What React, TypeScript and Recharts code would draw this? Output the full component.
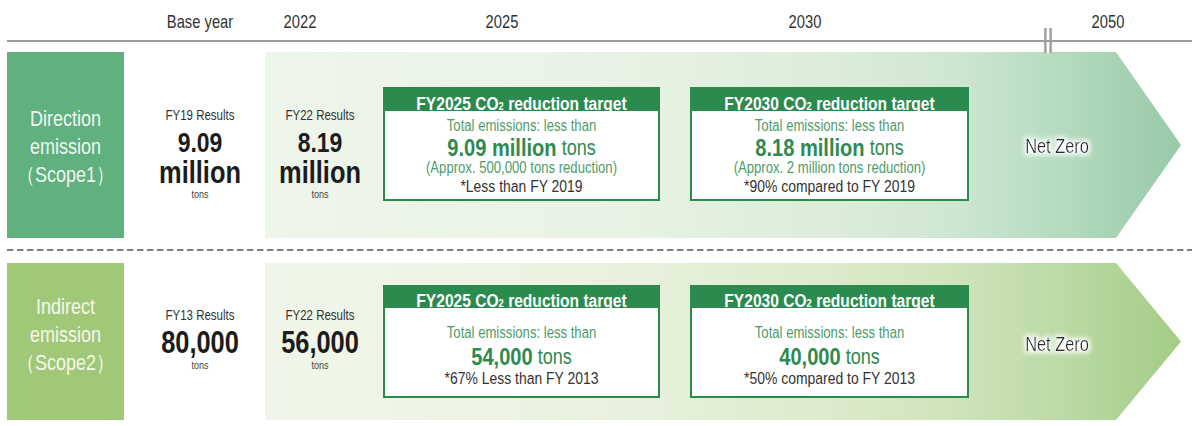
import { Bar, ComposedChart, XAxis, YAxis } from 'recharts'

// no narrow face is installed, so Liberation Sans is squeezed to Arial Narrow proportions
const FONT = "'Liberation Sans', Arial, sans-serif"
const NARROW = 0.82

// ---- data -------------------------------------------------------------
const scopes = ['Scope1', 'Scope2']
const scopeTitles = [
  ['Direction', 'emission', '（Scope1）'],
  ['Indirect', 'emission', '（Scope2）'],
]
const baseLabels = ['FY19 Results', 'FY13 Results']
const baseValues = [['9.09', 'million'], ['80,000']]
const fy22Labels = ['FY22 Results', 'FY22 Results']
const fy22Values = [['8.19', 'million'], ['56,000']]
const unitLabel = 'tons'

const targetYears = ['2025', '2030']
const targetLead = 'Total emissions: less than'
const target2025 = ['9.09 million', '54,000']
const target2030 = ['8.18 million', '40,000']
const reduction2025 = ['(Approx. 500,000 tons reduction)', '']
const reduction2030 = ['(Approx. 2 million tons reduction)', '']
const note2025 = ['*Less than FY 2019', '*67% Less than FY 2013']
const note2030 = ['*90% compared to FY 2019', '*50% compared to FY 2013']
const goal2050 = ['Net Zero', 'Net Zero']

const tickLabels = ['Base year', '2022', '2025', '2030', '2050']

// ---- layout (timeline units on the x axis, 1 unit = 10px) -------------
const AXIS_MAX = 118.5
const tickPos = [19.3, 29.3, 49.5, 79.8, 110.1]
const span = {
  scope: [0, 11.7],
  base: [14, 24.6],
  arrow: [25.8, 117.4],
  fy22: [26.3, 36.3],
  t2025: [37.6, 65.3],
  t2030: [68.3, 96.2],
  goal: [100, 110],
}
const ARROW_NECK = 110.9
const BREAK_AT = 104.1

// vertical offsets inside each row, relative to the row box top
const rowGeom = [
  {
    top: 11,
    height: 186,
    title: [66, 94, 122],
    label: 63,
    value: [90, 120],
    unit: 142,
    box: { top: 35, header: 24, bottom: 149, headerText: 51, lines: [74, 95, 116, 134] },
    goal: 94,
  },
  {
    top: 29.5,
    height: 157,
    title: [43, 71, 99],
    label: 52,
    value: [79],
    unit: 102,
    box: { top: 22, header: 23, bottom: 135, headerText: 37, lines: [70, 93, 115] },
    goal: 81,
  },
]

const scopeFill = ['#61b07f', '#a1c879']
const scopeInk = ['#eef7f1', '#f4f8ea']
const gradStops = [
  [
    [0, '#eef5eb'],
    [0.37, '#e9f3e5'],
    [0.62, '#dcedd9'],
    [0.76, '#cde6d0'],
    [0.88, '#b2dabd'],
    [1, '#98c9a7'],
  ],
  [
    [0, '#f1f6ea'],
    [0.37, '#eaf2df'],
    [0.62, '#dcebcb'],
    [0.76, '#cee3bb'],
    [0.88, '#bad9a2'],
    [1, '#a4cc86'],
  ],
]
const GREEN = '#2b8a4e'

const rows = scopes.map((scope) => ({
  scope,
  scopeSpan: span.scope,
  baseSpan: span.base,
  arrowSpan: span.arrow,
  fy22Span: span.fy22,
  t2025Span: span.t2025,
  t2030Span: span.t2030,
  goalSpan: span.goal,
}))

const T = ({ x = 0, y = 0, children, ...rest }: any) => (
  <g transform={`translate(${x},${y}) scale(${NARROW},1)`}>
    <text x={0} y={0} textAnchor="middle" dominantBaseline="central" fontFamily={FONT} {...rest}>
      {children}
    </text>
  </g>
)

function TopTick({ x, y, payload }: any) {
  const i = tickPos.indexOf(payload.value)
  return (
    <T x={x} y={y - 20} fontSize={18} fill="#333">
      {tickLabels[i]}
    </T>
  )
}

function ScopeShape({ x, y, width, index }: any) {
  const g = rowGeom[index]
  const rt = y + g.top
  const unit = width / (span.scope[1] - span.scope[0])
  const cx = x + width / 2
  return (
    <g>
      {index === 1 && (
        <line
          x1={x}
          x2={x + AXIS_MAX * unit}
          y1={rt - 13}
          y2={rt - 13}
          stroke="#555"
          strokeWidth={1.6}
          strokeDasharray="6.5 3.5"
        />
      )}
      <rect x={x} y={rt} width={width} height={g.height} fill={scopeFill[index]} />
      {scopeTitles[index].map((t, i) => (
        <T key={i} x={cx} y={rt + g.title[i]} fontSize={22} fill={scopeInk[index]}>
          {t}
        </T>
      ))}
    </g>
  )
}

function resultShape(labels: string[], values: string[][]) {
  return ({ x, y, width, index }: any) => {
    const g = rowGeom[index]
    const rt = y + g.top
    const cx = x + width / 2
    return (
      <g>
        <T x={cx} y={rt + g.label} fontSize={14} fill="#333">
          {labels[index]}
        </T>
        {values[index].map((v, i) => (
          <T key={i} x={cx} y={rt + g.value[i]} fontSize={v.length > 5 ? 31 : 28} fontWeight={700} fill="#1c1c1c">
            {v}
          </T>
        ))}
        <T x={cx} y={rt + g.unit} fontSize={11} fill="#444">
          {unitLabel}
        </T>
      </g>
    )
  }
}

function ArrowShape({ x, y, width, index }: any) {
  const g = rowGeom[index]
  const rt = y + g.top
  const h = g.height
  const unit = width / (span.arrow[1] - span.arrow[0])
  const neck = x + (ARROW_NECK - span.arrow[0]) * unit
  const bx = x + (BREAK_AT - span.arrow[0]) * unit
  const id = `arrowGrad${index}`
  return (
    <g>
      <defs>
        <linearGradient id={id} x1="0" x2="1" y1="0" y2="0">
          {gradStops[index].map(([o, c]) => (
            <stop key={o} offset={o as number} stopColor={c as string} />
          ))}
        </linearGradient>
      </defs>
      <path
        d={`M${x},${rt}H${neck}L${x + width},${rt + h / 2}L${neck},${rt + h}H${x}Z`}
        fill={`url(#${id})`}
      />
      {index === 0 && (
        <g>
          <rect x={bx - 2.6} y={rt - 24} width={5.2} height={25} fill="#fff" />
          <line x1={bx - 2.6} x2={bx - 2.6} y1={rt - 24} y2={rt + 1} stroke="#9d9d9d" strokeWidth={2.4} />
          <line x1={bx + 2.6} x2={bx + 2.6} y1={rt - 24} y2={rt + 1} stroke="#9d9d9d" strokeWidth={2.4} />
        </g>
      )}
    </g>
  )
}

function targetShape(k: number, values: string[], reductions: string[], notes: string[]) {
  return ({ x, y, width, index }: any) => {
    const g = rowGeom[index]
    const b = g.box
    const rt = y + g.top
    const top = rt + b.top
    const bottom = rt + b.bottom
    const cx = x + width / 2
    const lines: any[] = [
      <T key="lead" fontSize={16} fill="#4f9c6b">
        {targetLead}
      </T>,
      <T key="val" fill="#2f8a50">
        <tspan fontSize={24.5} fontWeight={700}>
          {values[index]}
        </tspan>
        <tspan fontSize={22}> {unitLabel}</tspan>
      </T>,
    ]
    if (reductions[index])
      lines.push(
        <T key="red" fontSize={16} fill="#4f9c6b">
          {reductions[index]}
        </T>,
      )
    lines.push(
      <T key="note" fontSize={17} fill="#333">
        {notes[index]}
      </T>,
    )
    return (
      <g>
        <rect x={x + 1} y={top + 1} width={width - 2} height={bottom - top - 2} fill="#fff" stroke={GREEN} strokeWidth={2} />
        <rect x={x} y={top} width={width} height={b.header} fill={GREEN} />
        <T x={cx} y={rt + b.headerText} fontSize={19} fontWeight={700} fill="#fff">
          FY{targetYears[k]} CO
          <tspan fontSize={11.5} dy={3}>
            2
          </tspan>
          <tspan dy={-3}> reduction target</tspan>
        </T>
        {lines.map((el, i) => (
          <g key={i} transform={`translate(${cx},${rt + b.lines[i]})`}>
            {el}
          </g>
        ))}
      </g>
    )
  }
}

function GoalShape({ x, y, width, index }: any) {
  const g = rowGeom[index]
  const rt = y + g.top
  const id = `glow${index}`
  return (
    <g>
      <defs>
        <filter id={id} x="-30%" y="-60%" width="160%" height="220%">
          <feMorphology in="SourceAlpha" operator="dilate" radius="2" result="d" />
          <feGaussianBlur in="d" stdDeviation="2.5" result="b" />
          <feFlood floodColor="#ffffff" />
          <feComposite in2="b" operator="in" result="w" />
          <feMerge>
            <feMergeNode in="w" />
            <feMergeNode in="SourceGraphic" />
          </feMerge>
        </filter>
      </defs>
      <T x={x + width / 2} y={rt + g.goal} fontSize={20} fill="#2a2a2a" filter={`url(#${id})`}>
        {goal2050[index]}
      </T>
    </g>
  )
}

const BaseShape = resultShape(baseLabels, baseValues)
const Fy22Shape = resultShape(fy22Labels, fy22Values)
const T2025Shape = targetShape(0, target2025, reduction2025, note2025)
const T2030Shape = targetShape(1, target2030, reduction2030, note2030)

export default function App() {
  return (
    <div style={{ width: 1192, height: 426, background: '#fff' }}>
      <style>{'body{margin:0}'}</style>
      <ComposedChart
        width={1192}
        height={426}
        data={rows}
        layout="vertical"
        margin={{ top: 0, right: 0, bottom: 0, left: 7 }}
        barSize={192}
        barGap={-192}
      >
        <XAxis
          type="number"
          orientation="top"
          domain={[0, AXIS_MAX]}
          allowDataOverflow
          ticks={tickPos}
          interval={0}
          height={41}
          axisLine={{ stroke: '#9d9d9d', strokeWidth: 2 }}
          tickLine={false}
          tickSize={0}
          tickMargin={0}
          tick={<TopTick />}
        />
        <YAxis type="category" dataKey="scope" hide />
        <Bar dataKey="scopeSpan" shape={(p: any) => <ScopeShape {...p} />} isAnimationActive={false} />
        <Bar dataKey="baseSpan" shape={(p: any) => <BaseShape {...p} />} isAnimationActive={false} />
        <Bar dataKey="arrowSpan" shape={(p: any) => <ArrowShape {...p} />} isAnimationActive={false} />
        <Bar dataKey="fy22Span" shape={(p: any) => <Fy22Shape {...p} />} isAnimationActive={false} />
        <Bar dataKey="t2025Span" shape={(p: any) => <T2025Shape {...p} />} isAnimationActive={false} />
        <Bar dataKey="t2030Span" shape={(p: any) => <T2030Shape {...p} />} isAnimationActive={false} />
        <Bar dataKey="goalSpan" shape={(p: any) => <GoalShape {...p} />} isAnimationActive={false} />
      </ComposedChart>
    </div>
  )
}
